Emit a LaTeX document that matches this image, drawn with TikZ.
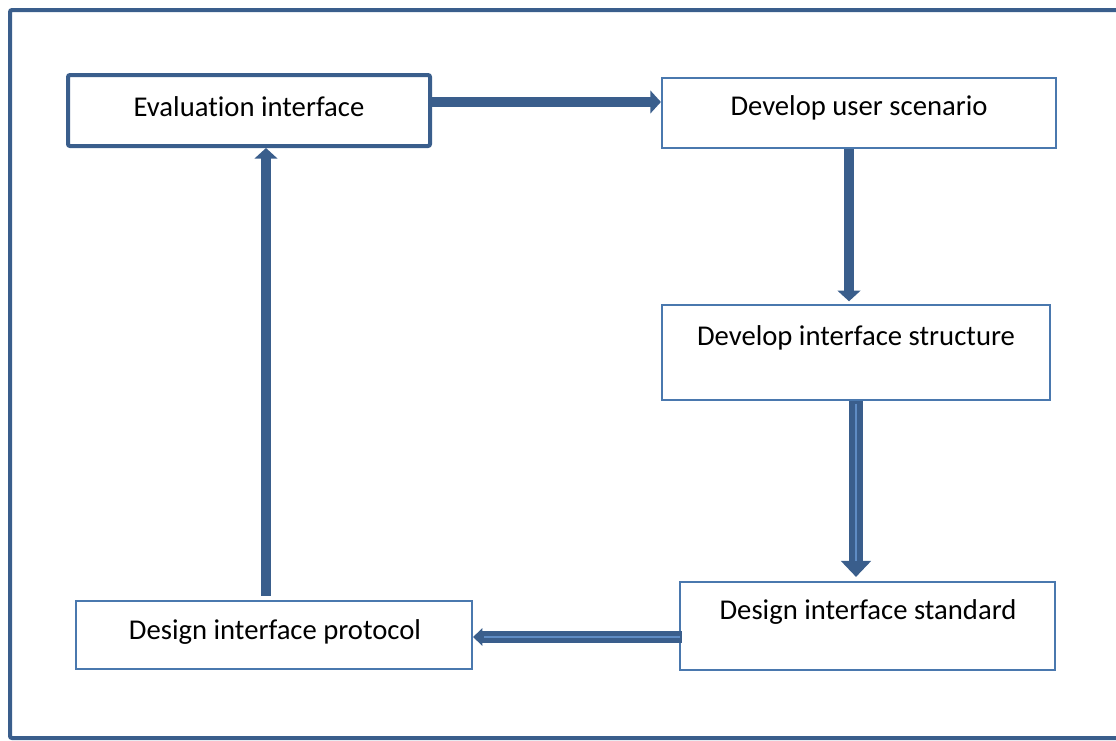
\documentclass[tikz,border=0pt]{standalone}
\usepackage{fontspec}
\setmainfont{Carlito}[Ligatures=NoCommon]
\usetikzlibrary{arrows.meta}
\definecolor{arrowblue}{HTML}{3A5E8C}
\definecolor{boxblue}{HTML}{4A78AE}
\definecolor{innerblue}{HTML}{5F8CC4}
\begin{document}
\begin{tikzpicture}[x=0.75pt,y=-0.75pt,
  box/.style={draw=boxblue,line width=1.6pt,fill=white,rectangle,inner sep=0pt},
  boldbox/.style={draw=arrowblue,line width=3pt,rounded corners=1.5pt,fill=white,rectangle,inner sep=0pt},
  lbl/.style={font=\fontsize{21.5}{26}\selectfont,text=black,inner sep=0pt},
  arr/.style={draw=arrowblue,line width=7.5pt,-{Triangle[length=8pt,width=17pt]}},
  arrbig/.style={draw=arrowblue,line width=10.5pt,-{Triangle[length=12pt,width=22pt]}},
  inner/.style={draw=innerblue,line width=2.2pt},
]
\useasboundingbox (0,0) rectangle (1116,740);
% outer frame
\draw[arrowblue,line width=3pt,rounded corners=1.5pt] (10,10) rectangle (1135,738);

% process boxes
\node[boldbox,minimum width=362*0.75pt,minimum height=71*0.75pt] (b1) at (249,110.5) {};
\node[lbl] (t1) at (249,107) {Evaluation interface};
\node[box,minimum width=394*0.75pt,minimum height=70*0.75pt] (b2) at (859,113) {};
\node[lbl] (t2) at (859,108) {Develop user scenario};
\node[box,minimum width=388*0.75pt,minimum height=95*0.75pt] (b3) at (856,352.5) {};
\node[lbl] (t3) at (856,338) {Develop interface structure};
\node[box,minimum width=375*0.75pt,minimum height=88*0.75pt] (b4) at (867.5,626) {};
\node[lbl] (t4) at (868,612) {Design interface standard};
\node[box,minimum width=396*0.75pt,minimum height=68*0.75pt] (b5) at (274,635) {};
\node[lbl] (t5) at (275,632) {Design interface protocol};

% connector guide positions
\coordinate (g1) at (0,102);
\coordinate (g2) at (849,0);
\coordinate (g3) at (856,0);
\coordinate (g4) at (0,637);
\coordinate (g5) at (266,0);

% connectors
\draw[arr] (b1.east |- g1) -- (b2.west |- g1);
\draw[arr,shorten >=2pt] (b2.south -| g2) -- (b3.north -| g2);
\draw[arrbig,shorten >=3pt] (b3.south -| g3) -- (b4.north -| g3);
\draw[inner] ([yshift=-2pt]b3.south -| g3) -- ([yshift=15pt]b4.north -| g3);
\draw[arr,line width=8.5pt,-{Triangle[length=7pt,width=13pt]}] ([xshift=2pt]b4.west |- g4) -- (b5.east |- g4);
\draw[inner,line width=1.6pt] ([xshift=1pt]b4.west |- g4) -- ([xshift=8pt]b5.east |- g4);
\draw[arr,shorten <=3pt] (b5.north -| g5) -- (b1.south -| g5);
\end{tikzpicture}
\end{document}
